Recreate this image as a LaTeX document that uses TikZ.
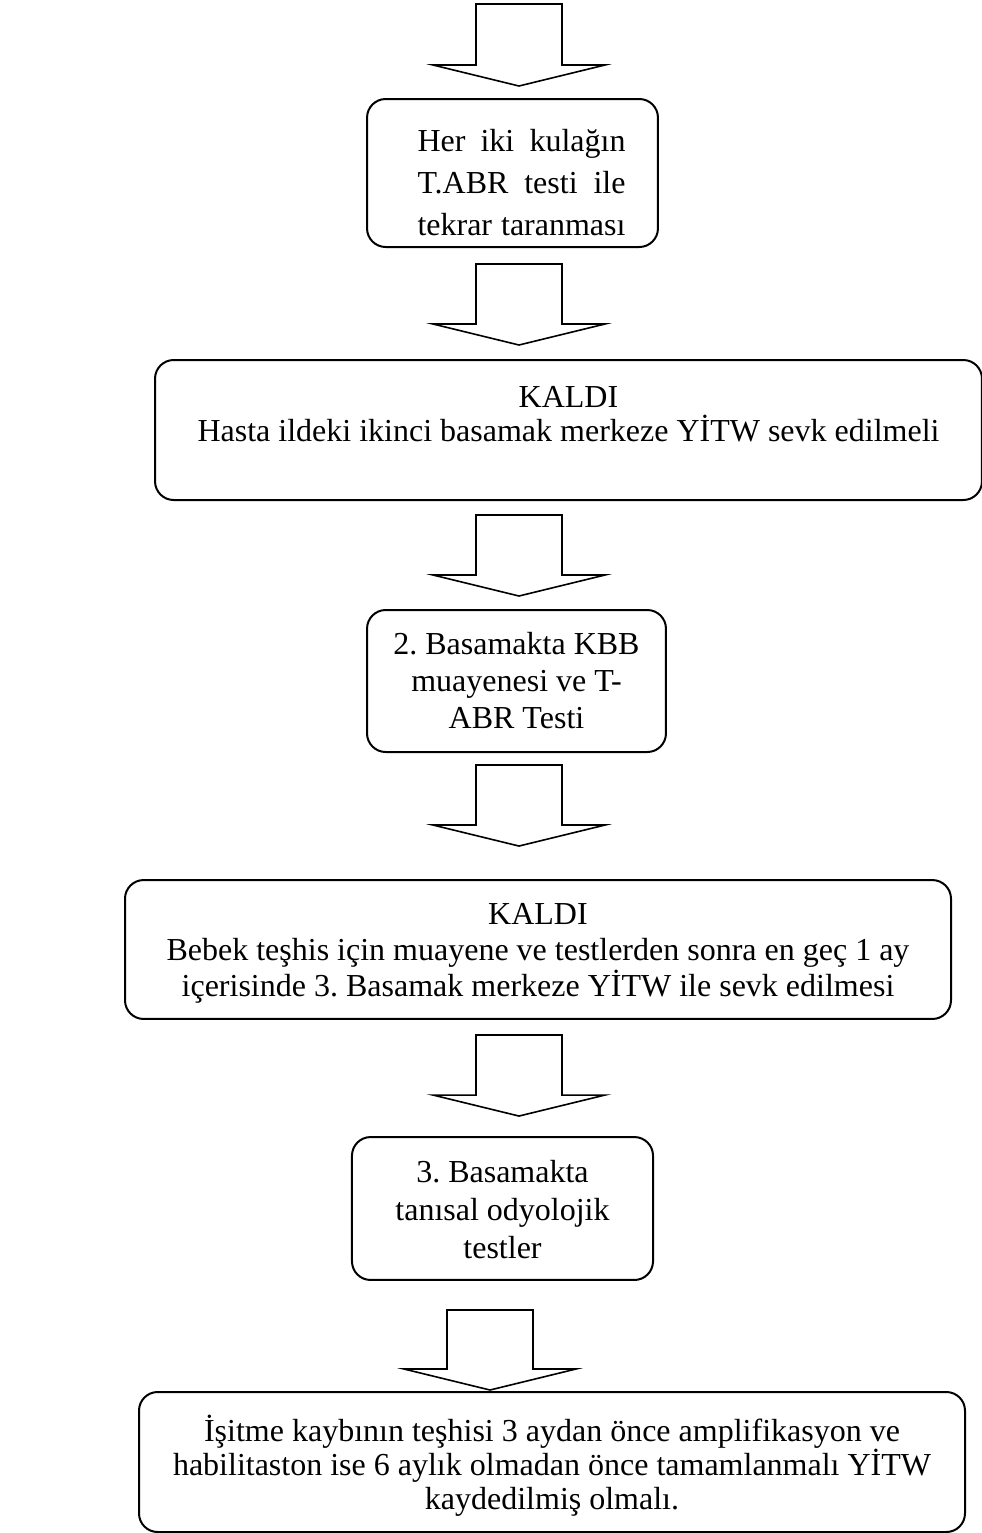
\documentclass[tikz,border=0pt]{standalone}
\usepackage{fontspec}
\setmainfont{Liberation Serif}
\usetikzlibrary{calc,positioning}
% kutu metni: yukseklik, genislik, ust bosluk, satir araligi, metin
\newcommand{\kutumetni}[5]{\parbox[c][#1][t]{#2}{\fontsize{12}{#4}\selectfont\frenchspacing\centering\vspace*{#3}#5}}
% iki yana yasli satir
\newcommand{\yasli}[1]{\hspace*{6.75pt}\makebox[78pt][s]{#1}}

\begin{document}
\begin{tikzpicture}[x=0.375pt, y=-0.375pt,
	kutu/.style={draw, rounded corners=7pt, line width=0.75pt, inner sep=0pt},
	blok/.style={draw, line width=0.6pt, line join=miter}]
\useasboundingbox (0,0) rectangle (982,1533);
% kutular
\node[kutu] (tarama) at (512.5,173) {\kutumetni{55.5pt}{109.1pt}{11.3pt}{15.75pt}{\yasli{Her iki kulağın}\\\yasli{T.ABR testi ile}\\\yasli{tekrar taranması}}};
\node[kutu] (kaldi1) at (568.5,430) {\kutumetni{52.5pt}{310.1pt}{9.7pt}{13.1pt}{KALDI\\Hasta ildeki ikinci basamak merkeze YİTW sevk edilmeli}};
\node[kutu] (basamak2) at (516.5,681) {\kutumetni{53.25pt}{112.1pt}{8.4pt}{13.9pt}{2. Basamakta KBB\\muayenesi ve T-\\ABR Testi}};
\node[kutu] (kaldi2) at (538,949.5) {\kutumetni{52.1pt}{309.75pt}{8.9pt}{13.5pt}{KALDI\\Bebek teşhis için muayene ve testlerden sonra en geç 1 ay\\içerisinde 3. Basamak merkeze YİTW ile sevk edilmesi}};
\node[kutu] (basamak3) at (502.5,1208.5) {\kutumetni{53.6pt}{112.9pt}{8.7pt}{14.25pt}{3. Basamakta\\tanısal odyolojik\\testler}};
\node[kutu] (sonuc) at (552,1462) {\kutumetni{52.5pt}{309.75pt}{8.8pt}{12.75pt}{İşitme kaybının teşhisi 3 aydan önce amplifikasyon ve\\habilitaston ise 6 aylık olmadan önce tamamlanmalı YİTW\\kaydedilmiş olmalı.}};

% ok uclari
\coordinate (eksen) at (519,0);
\coordinate (eksen2) at (490,0);
\coordinate (ok1b) at (519,4);
\path (tarama.north -| eksen) ++(0,-12) coordinate (ok1u);
\path (tarama.south -| eksen) ++(0,16) coordinate (ok2b);
\path (kaldi1.north -| eksen) ++(0,-14) coordinate (ok2u);
\path (kaldi1.south -| eksen) ++(0,14) coordinate (ok3b);
\path (basamak2.north -| eksen) ++(0,-13) coordinate (ok3u);
\path (basamak2.south -| eksen) ++(0,12) coordinate (ok4b);
\path (kaldi2.north -| eksen) ++(0,-33) coordinate (ok4u);
\path (kaldi2.south -| eksen) ++(0,15) coordinate (ok5b);
\path (basamak3.north -| eksen) ++(0,-20) coordinate (ok5u);
\path (basamak3.south -| eksen2) ++(0,29) coordinate (ok6b);
\path (sonuc.north -| eksen2) ++(0,-1) coordinate (ok6u);

% blok oklar
\foreach \b/\u in {ok1b/ok1u, ok2b/ok2u, ok3b/ok3u, ok4b/ok4u, ok5b/ok5u, ok6b/ok6u}
	\draw[blok] ($(\b)+(-43,0)$) -- ($(\b)+(43,0)$) -- ($(\u)+(43,-21)$) -- ($(\u)+(86,-21)$)
	-- (\u) -- ($(\u)+(-86,-21)$) -- ($(\u)+(-43,-21)$) -- cycle;
\end{tikzpicture}
\end{document}
